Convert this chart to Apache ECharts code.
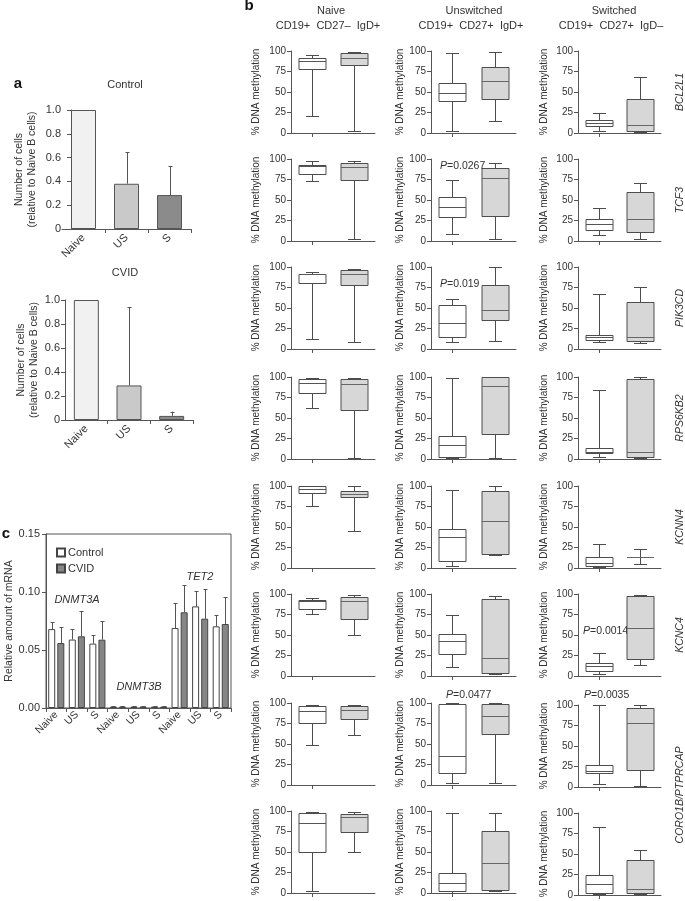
<!DOCTYPE html>
<html><head><meta charset="utf-8">
<script src="https://cdn.jsdelivr.net/npm/echarts@6/dist/echarts.min.js"></script>
<style>html,body{margin:0;padding:0;background:#fff}#c{width:685px;height:901px}</style>
</head><body><div id="c"></div>
<script>
// ---------- DATA ----------
// Panel a: number of cells relative to naive B cells
const cellCategories = ['Naive', 'US', 'S'];
const controlCells = [1.0, 0.38, 0.285];
const controlCellsErrTop = [null, 0.645, 0.53];
const cvidCells = [1.0, 0.288, 0.034];
const cvidCellsErrTop = [null, 0.94, 0.07];

// Panel c: relative amount of mRNA
const mrnaCategories = ['Naive', 'US', 'S', 'Naive', 'US', 'S', 'Naive', 'US', 'S'];
const mrnaGenes = ['DNMT3A', 'DNMT3B', 'TET2'];
const mrnaControl = [0.068, 0.059, 0.0555, 0.0012, 0.0012, 0.0012, 0.069, 0.0876, 0.0704];
const mrnaControlErrTop = [0.0741, 0.068, 0.0626, 0.0016, 0.0016, 0.0016, 0.0905, 0.1006, 0.0799];
const mrnaCVID = [0.056, 0.0618, 0.0589, 0.0012, 0.0012, 0.0012, 0.0825, 0.077, 0.0724];
const mrnaCVIDErrTop = [0.0695, 0.0833, 0.075, 0.0016, 0.0016, 0.0016, 0.1057, 0.1026, 0.0954];

// Panel b: % DNA methylation boxplots, each entry [min, Q1, median, Q3, max]
const boxGroups = ['Control', 'CVID'];
const columnTitles = ['Naive', 'Unswitched', 'Switched'];
const columnSubtitles = ['CD19+  CD27\u2013  IgD+', 'CD19+  CD27+  IgD+', 'CD19+  CD27+  IgD\u2013'];
const geneLabels = ['BCL2L1', 'TCF3', 'PIK3CD', 'RPS6KB2', 'KCNN4', 'KCNC4', 'CORO1B/PTPRCAP'];
const yTicks = [0, 25, 50, 75, 100];

const naiveControl = [
  [21, 77.5, 87.5, 91, 95], [73.5, 81.6, 91, 93, 97.5], [12, 80, 91, 92, 94], [62, 81, 93, 98, 99],
  [75.6, 91, 96, 100, 100], [75.7, 81.4, 91.5, 93, 95.5], [49, 76, 90, 96, 98], [3, 50, 85, 97, 98.4]];
const naiveCVID = [
  [2, 83, 91, 98, 98.5], [3, 75, 90, 95, 97], [8, 78, 92, 96, 97], [1, 60, 91, 98, 99],
  [45.5, 86, 90, 94, 100], [50, 69.6, 91.5, 96.7, 99], [60.4, 80, 91.4, 96, 98], [50.6, 74, 93, 96, 98.4]];
const unswitchedControl = [
  [3, 39, 49, 61, 98], [9, 29, 41, 54, 74], [9, 15, 32, 54, 61], [1, 2.4, 17, 28, 99],
  [3, 8, 38, 48, 95], [10.4, 26.4, 42.4, 51.6, 75], [3, 15, 35, 99, 100], [0.5, 2, 12, 24, 97]];
const unswitchedCVID = [
  [15, 42, 64, 80, 99], [2, 31, 77, 89, 95], [10, 35, 47, 78, 100], [1, 31, 89, 100, 100],
  [16, 17, 57, 94, 100], [3, 3.6, 22, 94, 98], [2.5, 62, 84, 99, 100], [2, 4, 37, 76, 97]];
const switchedControl = [
  [2, 8, 12, 16, 25], [7, 14, 21, 27, 40], [9, 10.5, 14.5, 17, 67], [2, 7, 9, 13, 84],
  [1, 2, 6, 13, 29], [2, 6.4, 11.6, 16.4, 28], [4, 17, 19.6, 27, 99.6], [1, 3, 13, 25, 83]];
const switchedCVID = [
  [1, 3, 10, 41, 68], [2.5, 11, 27, 60, 71], [7, 10, 14.5, 57, 76], [1.5, 2.4, 8, 98, 100],
  [4.5, 13, 13, 13, 23], [13.2, 20.4, 58.8, 98, 98.4], [1, 21, 78, 96.7, 99.6], [1, 3, 7, 43, 54.6]];

// P values: [row, column, text]
const pValues = [[1, 1, '0.0267'], [2, 1, '0.019'], [5, 2, '0.0014'], [6, 1, '0.0477'], [6, 2, '0.0035']];

// ---------- STYLE / LAYOUT ----------
const FONT = '"Liberation Sans", Arial, Helvetica, sans-serif';
const TXT = '#333';
const AX = '#555';

const grids = [], xAxes = [], yAxes = [], series = [], graphics = [];

function txt(x, y, text, opt) {
  opt = opt || {};
  graphics.push({
    type: 'text', x: x, y: y, rotation: opt.rotation || 0, silent: true,
    style: {
      text: text, fill: opt.color || TXT,
      font: (opt.italic ? 'italic ' : '') + (opt.bold ? 'bold ' : '') + (opt.size || 11) + 'px ' + FONT,
      align: opt.align || 'center', verticalAlign: opt.valign || 'middle',
      rich: opt.rich
    }
  });
}

function errorBarRenderer(offsetPx, capW) {
  return function (params, api) {
    const lo = api.value(1), hi = api.value(2);
    if (hi == null || isNaN(hi)) return null;
    const p0 = api.coord([api.value(0), lo]);
    const p1 = api.coord([api.value(0), hi]);
    const cx = Math.round(p0[0] + offsetPx) + 0.5;
    const st = { stroke: AX, lineWidth: 1 };
    return {
      type: 'group', children: [
        { type: 'line', shape: { x1: cx, y1: p0[1], x2: cx, y2: p1[1] }, style: st },
        { type: 'line', shape: { x1: cx - capW / 2, y1: Math.round(p1[1]) + 0.5, x2: cx + capW / 2, y2: Math.round(p1[1]) + 0.5 }, style: st }
      ]
    };
  };
}

// ---------- PANEL a ----------
const barColors = ['#f1f1f1', '#c9c9c9', '#8b8b8b'];
function cellPanel(gridCfg, yOffset, labelMargin, nameGap, values, errTop) {
  const gi = grids.length;
  grids.push(gridCfg);
  xAxes.push({
    type: 'category', gridIndex: gi, data: cellCategories,
    axisLine: { lineStyle: { color: AX } },
    axisTick: { show: true, alignWithLabel: false, length: 4, lineStyle: { color: AX },
      interval: function (idx) { return idx !== 0; } },
    axisLabel: { rotate: 45, fontSize: 11, color: TXT, fontFamily: FONT, margin: 7 }
  });
  yAxes.push({
    type: 'value', gridIndex: gi, min: 0, max: 1, interval: 0.2, offset: yOffset,
    axisLine: { show: true, lineStyle: { color: AX } },
    axisTick: { show: true, length: 4, lineStyle: { color: AX } },
    splitLine: { show: false },
    axisLabel: { fontSize: 11, color: TXT, fontFamily: FONT, margin: labelMargin,
      formatter: v => v === 0 ? '0' : v.toFixed(1) },
    name: 'Number of cells\n(relative to Naive B cells)', nameLocation: 'middle', nameGap: nameGap,
    nameTextStyle: { fontSize: 10.5, color: TXT, fontFamily: FONT, lineHeight: 13 }
  });
  series.push({
    type: 'bar', xAxisIndex: gi, yAxisIndex: gi, barWidth: 25, silent: true,
    data: values.map((v, i) => ({ value: v, itemStyle: { color: barColors[i], borderColor: AX, borderWidth: 1 } }))
  });
  series.push({
    type: 'custom', xAxisIndex: gi, yAxisIndex: gi, silent: true, z: 5,
    renderItem: errorBarRenderer(0, 4),
    encode: { x: 0, y: [1, 2] },
    data: values.map((v, i) => [i, v, errTop[i] == null ? NaN : errTop[i]])
  });
}
cellPanel({ left: 62, top: 110, width: 129, height: 119 }, -9, 10, 32, controlCells, controlCellsErrTop);
cellPanel({ left: 65, top: 300, width: 128, height: 120 }, 0, 5, 23, cvidCells, cvidCellsErrTop);
txt(18, 84, 'a', { bold: true, size: 15, color: '#111' });
txt(125, 85, 'Control', { size: 11 });
txt(125, 273, 'CVID', { size: 11 });

// ---------- PANEL c ----------
(function () {
  const gi = grids.length;
  grids.push({ left: 46, top: 534, width: 185, height: 174, show: true, borderColor: AX, borderWidth: 1 });
  xAxes.push({
    type: 'category', gridIndex: gi, data: mrnaCategories,
    axisLine: { lineStyle: { color: AX } },
    axisTick: { show: true, alignWithLabel: false, length: 4, lineStyle: { color: AX } },
    axisLabel: { rotate: 45, fontSize: 10.5, color: TXT, fontFamily: FONT, margin: 5, interval: 0 }
  });
  yAxes.push({
    type: 'value', gridIndex: gi, min: 0, max: 0.15, interval: 0.05,
    axisLine: { show: true, lineStyle: { color: AX } },
    axisTick: { show: true, length: 4, lineStyle: { color: AX } },
    splitLine: { show: false },
    axisLabel: { fontSize: 11, color: TXT, fontFamily: FONT, margin: 6, formatter: v => v.toFixed(2) },
    name: 'Relative amount of mRNA', nameLocation: 'middle', nameGap: 31,
    nameTextStyle: { fontSize: 10.5, color: TXT, fontFamily: FONT }
  });
  const bw = 7, gapPct = 0.3;
  const off = (bw + bw * gapPct) / 2;
  series.push({
    name: 'Control', type: 'bar', xAxisIndex: gi, yAxisIndex: gi, barWidth: bw, barGap: '30%', silent: true,
    itemStyle: { color: '#ffffff', borderColor: '#444', borderWidth: 1 }, data: mrnaControl
  });
  series.push({
    name: 'CVID', type: 'bar', xAxisIndex: gi, yAxisIndex: gi, barWidth: bw, barGap: '30%', silent: true,
    itemStyle: { color: '#868686', borderColor: '#444', borderWidth: 1 }, data: mrnaCVID
  });
  series.push({
    type: 'custom', xAxisIndex: gi, yAxisIndex: gi, silent: true, z: 5,
    renderItem: errorBarRenderer(-off, 4), encode: { x: 0, y: [1, 2] },
    data: mrnaControl.map((v, i) => [i, v, mrnaControlErrTop[i]])
  });
  series.push({
    type: 'custom', xAxisIndex: gi, yAxisIndex: gi, silent: true, z: 5,
    renderItem: errorBarRenderer(off, 4), encode: { x: 0, y: [1, 2] },
    data: mrnaCVID.map((v, i) => [i, v, mrnaCVIDErrTop[i]])
  });
})();
txt(6, 534, 'c', { bold: true, size: 15, color: '#111' });
txt(77, 600, mrnaGenes[0], { italic: true, size: 11 });
txt(139, 687, mrnaGenes[1], { italic: true, size: 11 });
txt(200, 577, mrnaGenes[2], { italic: true, size: 11 });

// ---------- PANEL b ----------
const colLeft = [291, 431, 578];
const colWidth = [84, 85, 83];
const colNameGap = [30, 25, 29];
const rowTop = [51, 159, 267, 377, 486, 594, 703, 811];
const rowH = 82;
const colData = [[naiveControl, naiveCVID], [unswitchedControl, unswitchedCVID], [switchedControl, switchedCVID]];

function boxRenderer(params, api) {
  const i = api.value(0);
  const lo = api.value(1), q1 = api.value(2), md = api.value(3), q3 = api.value(4), hi = api.value(5);
  const cx = Math.round(api.coord([i, md])[0]) + 0.5;
  const y = v => Math.round(api.coord([i, v])[1]) + 0.5;
  const bw = 27, cw = 13;
  const st = { stroke: '#4d4d4d', lineWidth: 1 };
  const fill = i === 0 ? '#ffffff' : '#d7d7d7';
  const L = (x1, y1, x2, y2, s) => ({ type: 'line', shape: { x1, y1, x2, y2 }, style: s || st });
  return {
    type: 'group', children: [
      L(cx, y(lo), cx, y(q1)),
      L(cx, y(q3), cx, y(hi)),
      L(cx - cw / 2, y(lo), cx + cw / 2, y(lo)),
      L(cx - cw / 2, y(hi), cx + cw / 2, y(hi)),
      { type: 'rect', shape: { x: cx - bw / 2, y: y(q3), width: bw, height: y(q1) - y(q3) },
        style: { fill: fill, stroke: '#4d4d4d', lineWidth: 1 } },
      L(cx - bw / 2, y(md), cx + bw / 2, y(md), { stroke: i === 0 ? '#555' : '#666', lineWidth: 1 })
    ]
  };
}

for (let r = 0; r < rowTop.length; r++) {
  for (let c = 0; c < 3; c++) {
    const gi = grids.length;
    const top = rowTop[r] + (c === 2 && r >= 6 ? 2 : 0);
    grids.push({ left: colLeft[c], top: top, width: colWidth[c], height: rowH });
    xAxes.push({
      type: 'category', gridIndex: gi, data: boxGroups,
      axisLine: { lineStyle: { color: AX } },
      axisTick: { show: true, alignWithLabel: true, length: 4, lineStyle: { color: AX } },
      axisLabel: { show: false }
    });
    yAxes.push({
      type: 'value', gridIndex: gi, min: yTicks[0], max: yTicks[yTicks.length - 1], interval: yTicks[1] - yTicks[0],
      axisLine: { show: true, lineStyle: { color: AX } },
      axisTick: { show: true, length: 4, lineStyle: { color: AX } },
      splitLine: { show: false },
      axisLabel: { fontSize: 10, color: TXT, fontFamily: FONT, margin: 5 },
      name: '% DNA methylation', nameLocation: 'middle', nameGap: colNameGap[c],
      nameTextStyle: { fontSize: 10, color: TXT, fontFamily: FONT }
    });
    series.push({
      type: 'custom', xAxisIndex: gi, yAxisIndex: gi, silent: true,
      renderItem: boxRenderer, encode: { x: 0, y: [1, 2, 3, 4, 5] },
      data: [[0].concat(colData[c][0][r]), [1].concat(colData[c][1][r])]
    });
  }
}

txt(249, 6, 'b', { bold: true, size: 15, color: '#111' });
const headX = [331, 474, 614];
for (let c = 0; c < 3; c++) {
  txt(headX[c], 11, columnTitles[c], { size: 11 });
  txt(headX[c] - 3, 26, columnSubtitles[c], { size: 11 });
}
for (let r = 0; r < geneLabels.length; r++) {
  const cy = r === 6 ? 795 : rowTop[r] + 41;
  txt(680, cy, geneLabels[r], { italic: true, size: 10.5, rotation: Math.PI / 2 });
}
const pPos = { '1,1': [440, 166], '2,1': [440, 284], '5,2': [583, 631], '6,1': [446, 695], '6,2': [584, 695] };
pValues.forEach(p => {
  const pos = pPos[p[0] + ',' + p[1]];
  graphics.push({
    type: 'text', x: pos[0], y: pos[1], silent: true,
    style: {
      text: '{i|P}{n|=' + p[2] + '}', align: 'left', verticalAlign: 'middle',
      rich: {
        i: { fontStyle: 'italic', fontSize: 10.5, fontFamily: FONT, fill: TXT },
        n: { fontSize: 10.5, fontFamily: FONT, fill: TXT }
      }
    }
  });
});

// ---------- CHART ----------
const chart = echarts.init(document.getElementById('c'), null, { renderer: 'canvas' });
chart.setOption({
  animation: false,
  backgroundColor: '#ffffff',
  textStyle: { fontFamily: FONT },
  grid: grids,
  xAxis: xAxes,
  yAxis: yAxes,
  legend: {
    data: ['Control', 'CVID'], orient: 'vertical', left: 51, top: 542,
    itemWidth: 8, itemHeight: 8, itemGap: 5, icon: 'rect', selectedMode: false,
    textStyle: { fontSize: 11, color: TXT, fontFamily: FONT, padding: [0, 0, 0, -2] }
  },
  series: series,
  graphic: graphics
});
</script></body></html>
